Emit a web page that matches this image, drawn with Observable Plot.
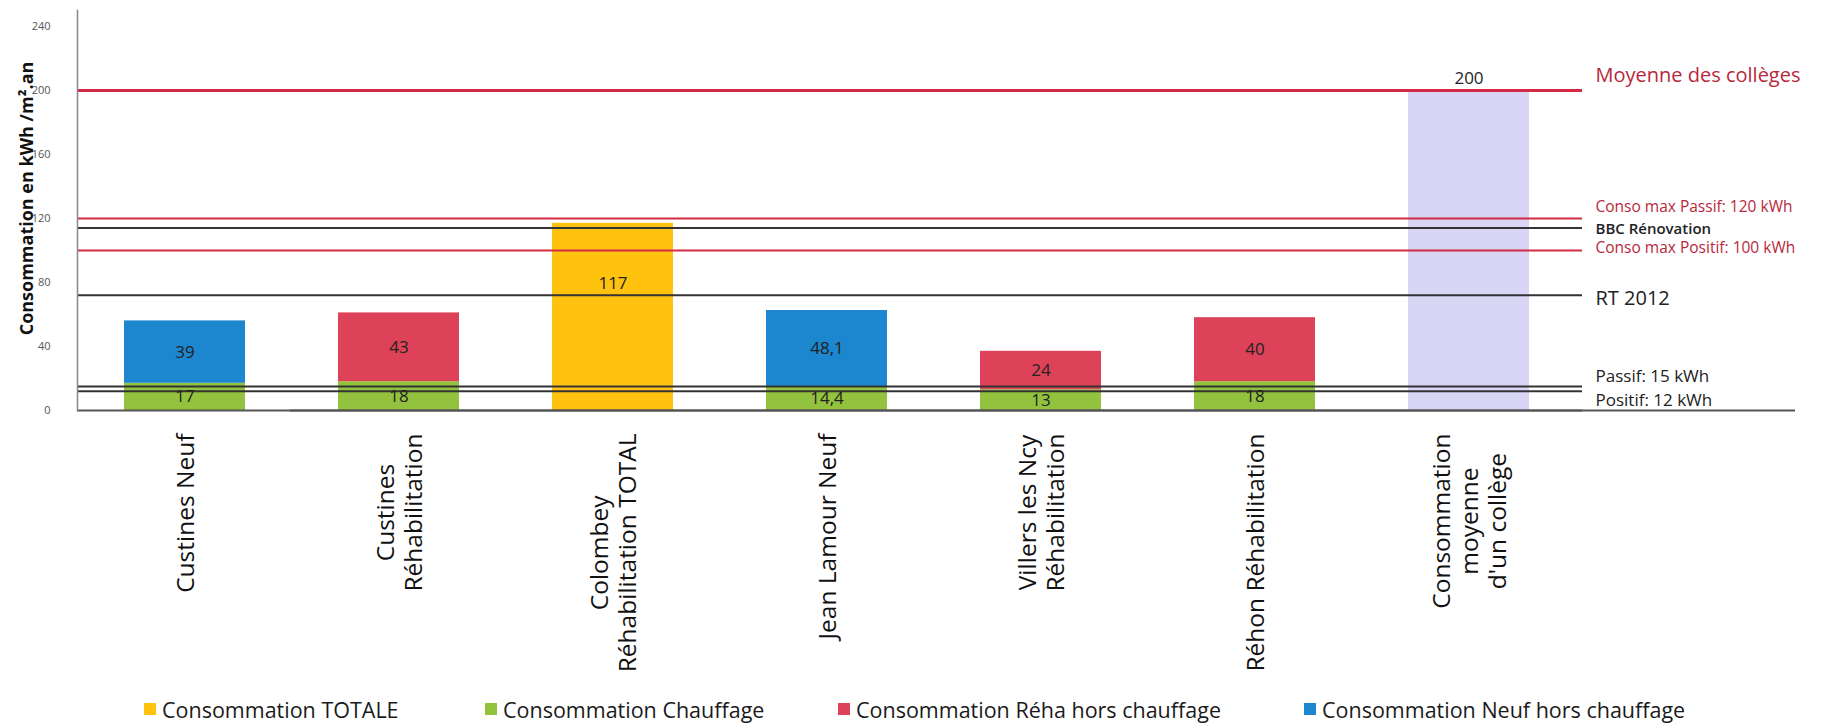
<!DOCTYPE html>
<html><head><meta charset="utf-8">
<script src="https://cdn.jsdelivr.net/npm/d3@7"></script>
<script src="https://cdn.jsdelivr.net/npm/@observablehq/plot@0.6"></script>
<style>
body{margin:0;background:#fff;width:1825px;height:728px;overflow:hidden;font-family:'Open Sans',sans-serif}
#legend{position:relative;height:38px;width:1825px}
.item{position:absolute;top:0;height:38px;display:flex;align-items:center;font-size:21.5px;color:#1a1a1a;white-space:nowrap}
.sw{width:12px;height:12px;margin-right:6px}
</style></head><body><div id="chart"></div><div id="legend"></div>
<script>
const categories = ["Custines Neuf", "Custines Réhabilitation", "Colombey Réhabilitation TOTAL", "Jean Lamour Neuf", "Villers les Ncy Réhabilitation", "Réhon Réhabilitation", "Consommation moyenne d'un collège"];
const categoryLabels = ["Custines Neuf", "Custines\nRéhabilitation", "Colombey\nRéhabilitation TOTAL", "Jean Lamour Neuf", "Villers les Ncy\nRéhabilitation", "Réhon Réhabilitation", "Consommation\nmoyenne\nd'un collège"];
const series = ["Consommation Chauffage", "Consommation Réha hors chauffage", "Consommation Neuf hors chauffage", "Consommation TOTALE", "Consommation moyenne d'un collège"];
const chauffage = [17, 18, null, 14.4, 13, 18, null];
const rehaHorsChauffage = [null, 43, null, null, 24, 40, null];
const neufHorsChauffage = [39, null, null, 48.1, null, null, null];
const totale = [null, null, 117, null, null, null, null];
const moyenneCollege = [null, null, null, null, null, null, 200];
const seriesColors = ["#93C23E", "#DE4258", "#1C86CE", "#FFC20E", "#D8D5F5"];
const yTicks = [0, 40, 80, 120, 160, 200, 240];
const refValues = [200, 120, 114, 100, 72, 15, 12];
const refLabels = ["Moyenne des collèges", "Conso max Passif: 120 kWh", "BBC Rénovation", "Conso max Positif: 100 kWh", "RT 2012", "Passif: 15 kWh", "Positif: 12 kWh"];
const refKinds = ["red", "red", "black", "red", "black", "black", "black"];
const legendSeries = ["Consommation TOTALE", "Consommation Chauffage", "Consommation Réha hors chauffage", "Consommation Neuf hors chauffage"];
const yTitle = "Consommation en kWh /m².an";

// ---- derived table ----
const seriesValues = [chauffage, rehaHorsChauffage, neufHorsChauffage, totale, moyenneCollege];
const rows = [];
categories.forEach((c, i) => {
  let base = 0;
  seriesValues.forEach((vals, s) => {
    const v = vals[i];
    if (v == null) return;
    rows.push({cat: c, series: series[s], v, y1: base, y2: base + v, mid: base + v / 2});
    base += v;
  });
});
const fmt = v => String(v).replace(".", ",");

// ---- styles ----
const lineColor = {red: "#D42A45", black: "#333"};
const labelColor = {red: "#B8283C", black: "#222"};
const refStyle = [
  {w: 3, dy: -15, size: 20, weight: 400},
  {w: 2, dy: -11, size: 15.5, weight: 400},
  {w: 2, dy: 1, size: 15, weight: 600},
  {w: 2, dy: -2, size: 15.5, weight: 400},
  {w: 2, dy: 3, size: 20, weight: 400},
  {w: 2, dy: -10, size: 17, weight: 400},
  {w: 2, dy: 9, size: 17, weight: 400}
];

const canvas = document.createElement("canvas");
const ctx = canvas.getContext("2d");
const catFont = 24.5;
ctx.font = `500 ${catFont}px 'Open Sans'`;
const measure = s => Math.max(...s.split("\n").map(l => ctx.measureText(l).width));

const marks = [
  Plot.barY(rows, {x: "cat", y1: "y1", y2: "y2", fill: "series"}),
  ...refValues.map((v, i) => Plot.ruleY([v], {stroke: lineColor[refKinds[i]], strokeWidth: refStyle[i].w})),
  Plot.ruleY([0], {stroke: "#555", strokeWidth: 2}),
  Plot.ruleY([0], {stroke: "#555", strokeWidth: 2, dx: 213}),
  Plot.frame({anchor: "left", stroke: "#888", strokeWidth: 1.5}),
  Plot.axisY({ticks: yTicks, tickSize: 0, tickPadding: 27, fontSize: 11, fill: "#555", label: null}),
  Plot.text([yTitle], {frameAnchor: "left", text: d => d, rotate: -90, textAnchor: "middle", dx: -50, dy: -12, fontSize: 18, fontWeight: "bold", fill: "#111"}),
  ...refValues.map((v, i) => Plot.text([refLabels[i]], {
    y: () => v, frameAnchor: "right", text: d => d, textAnchor: "start", dx: 13, dy: refStyle[i].dy,
    fontSize: refStyle[i].size, fontWeight: refStyle[i].weight, fill: labelColor[refKinds[i]]
  })),
  Plot.text(rows.filter(d => d.series !== series[3] && d.series !== series[4]), {
    x: "cat", y: "mid", text: d => fmt(d.v), fontSize: 17, fontWeight: 500, fill: "#222"
  }),
  Plot.text(rows.filter(d => d.series === series[3]), {
    x: "cat", y: "mid", text: d => fmt(d.v), fontSize: 17, fontWeight: 500, fill: "#222", dy: -33
  }),
  Plot.text(rows.filter(d => d.series === series[4]), {
    x: "cat", y: "y2", text: d => fmt(d.v), fontSize: 17, fontWeight: 500, fill: "#222", dy: -12
  }),
  ...categories.map((c, i) => Plot.text([c], {
    x: d => d, frameAnchor: "bottom", text: () => categoryLabels[i], rotate: -90,
    textAnchor: "middle", lineAnchor: "middle", lineHeight: 1.15,
    dy: 23 + measure(categoryLabels[i]) / 2, fontSize: catFont, fontWeight: 500, fill: "#111", fontFamily: "Open Sans"
  }))
];

const chart = Plot.plot({
  width: 1825,
  height: 690,
  marginLeft: 77,
  marginRight: 243,
  marginTop: 10,
  marginBottom: 280,
  style: {fontFamily: "'Open Sans', sans-serif", background: "#fff"},
  x: {type: "band", domain: categories, range: [77, 1576], paddingInner: 0.436, paddingOuter: 0.212, axis: null},
  y: {domain: [0, 250], axis: null},
  color: {domain: series, range: seriesColors},
  marks
});
document.getElementById("chart").appendChild(chart);

const legendX = [144, 485, 838, 1304];
const legend = document.getElementById("legend");
legendSeries.forEach((s, i) => {
  const it = document.createElement("div");
  it.className = "item";
  it.style.left = legendX[i] + "px";
  const sw = document.createElement("span");
  sw.className = "sw";
  sw.style.background = seriesColors[series.indexOf(s)];
  it.appendChild(sw);
  it.appendChild(document.createTextNode(s));
  legend.appendChild(it);
});
</script></body></html>
